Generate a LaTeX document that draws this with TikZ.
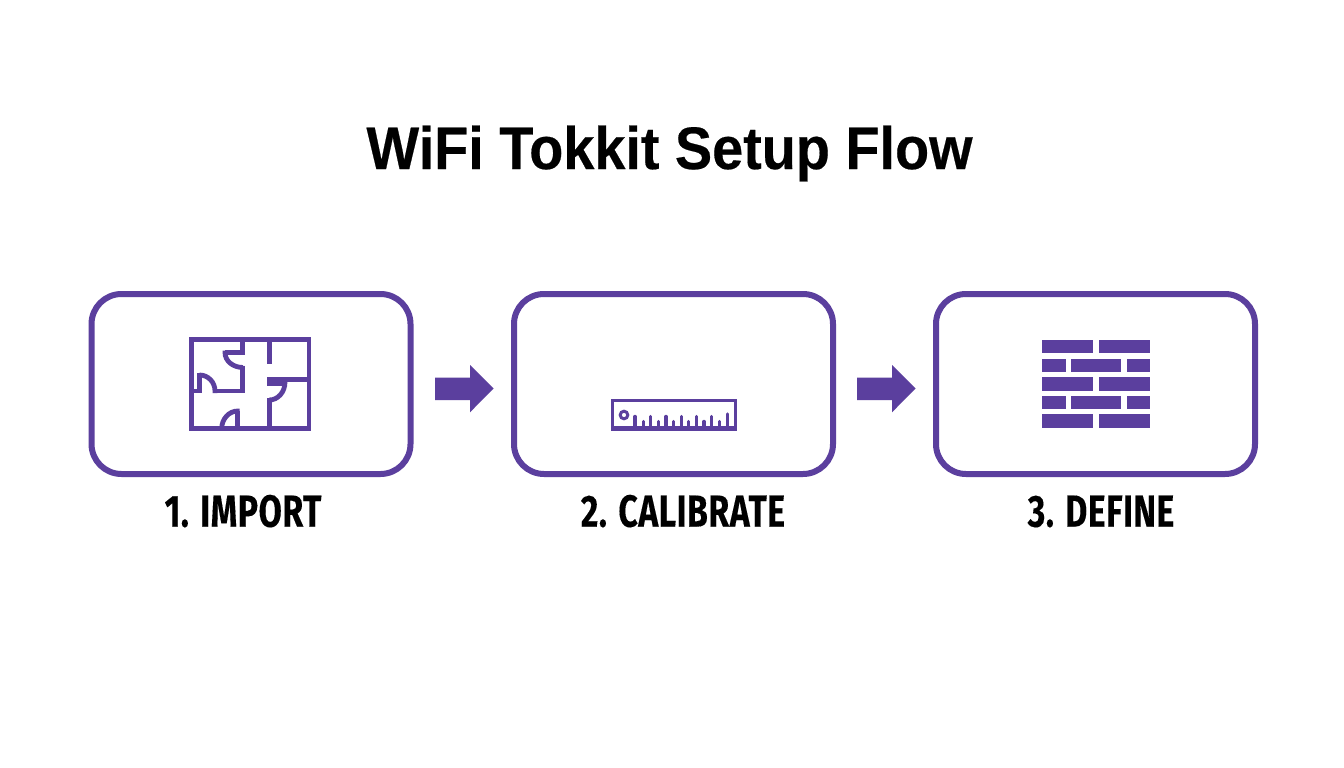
\documentclass[tikz,border=0pt]{standalone}
\usepackage{fontspec}
\setmainfont{Liberation Sans}
\newfontfamily\titlefont{Liberation Sans}[FakeStretch=0.93,FakeBold=0.35]
\newfontfamily\labelfont{Fira Sans}[FakeStretch=0.75,FakeBold=0.2,LetterSpace=1.2]
\definecolor{fp}{HTML}{5B3F9E}
\tikzset{
  panel/.style={draw=fp,line width=6pt,rounded corners=30pt,fill=white,minimum width=319pt,minimum height=180pt},
  wall/.style={draw=fp,line width=4.8pt,line cap=butt,line join=miter},
  thin/.style={draw=fp,line width=3pt},
  tick/.style={draw=fp,line width=3.4pt,line cap=round},
  brick/.style={fill=fp,draw=none},
  flow/.style={fill=fp,draw=none},
  steplabel/.style={text=black,font=\labelfont\bfseries\fontsize{45}{45}\selectfont,anchor=base,inner sep=0pt},
  headline/.style={text=black,font=\titlefont\bfseries\fontsize{60}{60}\selectfont,anchor=base,inner sep=0pt}
}
\begin{document}
\begin{tikzpicture}[x=1pt,y=-1pt]
\useasboundingbox[fill=white] (0,0) rectangle (1344,768);
\node[headline] (title) at (669.5,169) {WiFi Tokkit Setup Flow};
\node[panel] (b1) at (251,384) {};
\node[panel] (b2) at (673.5,384) {};
\node[panel] (b3) at (1095.5,384) {};
\node[steplabel] (l1) at (243,526.7) {1. IMPORT};
\node[steplabel] (l2) at (683,526.7) {2. CALIBRATE};
\node[steplabel] (l3) at (1101,526.7) {3. DEFINE};
% arrows
\fill[flow] (435,377.7) -- (470,377.7) -- (470,365) -- (493.5,388.5) -- (470,412.3) -- (470,400) -- (435,400) -- cycle;
\fill[flow] (857,377.7) -- (892,377.7) -- (892,365) -- (915.5,388.5) -- (892,412.3) -- (892,400) -- (857,400) -- cycle;
% floor plan
\draw[wall] (191.5,339.5) rectangle (309,428.5);
\draw[wall] (242.3,340) -- (242.3,352.5) -- (225,352.5);
\draw[wall] (225,350.5) -- (225,352.5) .. controls (225,361) and (233,367.5) .. (243,367.5);
\draw[wall] (242.3,365.5) -- (242.3,391) -- (215,391);
\draw[wall] (215,393) -- (215,391) .. controls (215,382) and (208,375) .. (199.5,375);
\draw[wall] (199.5,373) -- (199.5,391) -- (191.5,391);
\draw[wall] (237.7,428.5) -- (237.7,411);
\draw[wall] (239.7,411) -- (237.7,411) .. controls (229,411) and (221.7,419) .. (221.7,428.5);
\draw[wall] (269.3,340) -- (269.3,363.5);
\draw[wall] (309,379.5) -- (269.3,379.5) -- (269.3,383.5) -- (285,383.5);
\draw[wall] (285,382) .. controls (285,392) and (278,400) .. (269.3,400);
\draw[wall] (269.3,398) -- (269.3,428.5);
% ruler
\draw[thin] (612,400.8) rectangle (735.6,429.2);
\fill[fp] (612,426) rectangle (735.6,430);
\draw[draw=fp,line width=3pt] (624,415) circle[radius=3.8pt];
\foreach \x/\t in {635/416.5,643.3/421.5,650.7/416.5,658.3/421.5,666/416.5,673.3/421.5,681.7/416.5,688.3/421.5,696.7/416.5,704/421.5,711.7/416.5,719.3/421.5,727.3/414}{
  \draw[tick] (\x,428) -- (\x,\t);
}
% bricks
\foreach \a/\b in {340/353.3,377.3/390.7,414.3/427.7}{
  \fill[brick] (1042.3,\a) rectangle (1093.3,\b);
  \fill[brick] (1099,\a) rectangle (1150,\b);
}
\foreach \a/\b in {358.7/372,396/409.3}{
  \fill[brick] (1042.3,\a) rectangle (1065.7,\b);
  \fill[brick] (1071,\a) rectangle (1121,\b);
  \fill[brick] (1126.7,\a) rectangle (1150,\b);
}
\end{tikzpicture}
\end{document}
